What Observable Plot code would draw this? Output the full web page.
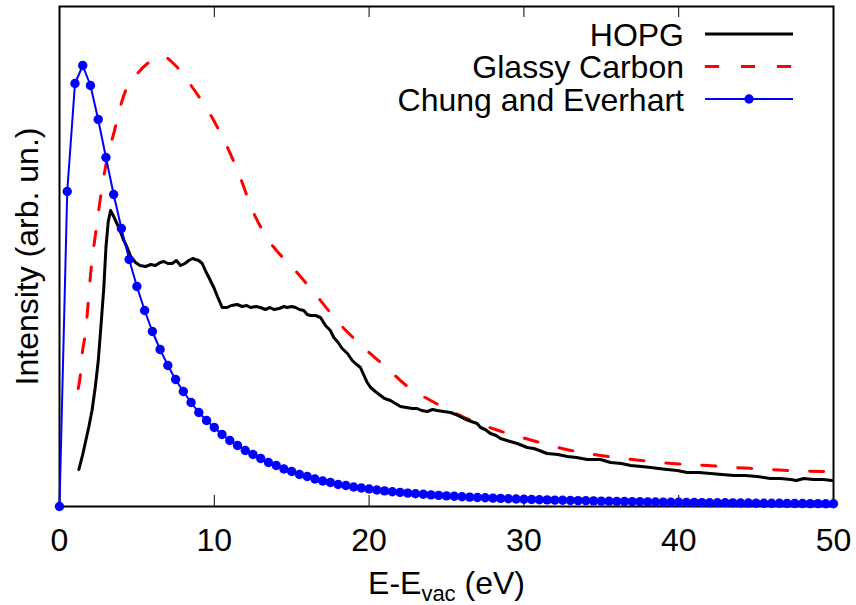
<!DOCTYPE html>
<html>
<head>
<meta charset="utf-8">
<script src="https://cdn.jsdelivr.net/npm/d3@7"></script>
<script src="https://cdn.jsdelivr.net/npm/@observablehq/plot@0.6"></script>
<style>
  html, body { margin: 0; padding: 0; background: #fff; }
  #chart svg { display: block; }
</style>
</head>
<body>
<div id="chart"></div>
<script>
// ---------- data (arbitrary intensity units) ----------
const xTicks = [0, 10, 20, 30, 40, 50];
const innerTicks = [10, 20, 30, 40];
const xLabelMain = "E-E";
const xLabelSub = "vac";
const xLabelTail = " (eV)";
const yLabel = "Intensity (arb. un.)";
const seriesNames = ["HOPG", "Glassy Carbon", "Chung and Everhart"];
const seriesColors = ["#000000", "#ff0000", "#0000ff"];

const hopgE = [1.25, 1.5, 1.7, 1.9, 2.1, 2.3, 2.5, 2.7, 2.86, 3.0, 3.15, 3.3, 3.5, 3.83, 4.1, 4.37, 4.6, 4.91, 5.2, 5.56,
  5.9, 6.2, 6.5, 6.74, 7.0, 7.28, 7.55, 7.82, 8.1, 8.35, 8.6, 8.79, 9.0, 9.22, 9.45, 9.65, 9.97, 10.2, 10.51, 10.83,
  11.1, 11.48, 11.8, 12.1, 12.34, 12.7, 12.98, 13.3, 13.6, 13.84, 14.2, 14.5, 14.71, 15.0, 15.25, 15.5, 15.78, 16.0, 16.21, 16.54,
  16.86, 17.18, 17.5, 17.72, 18.0, 18.26, 18.6, 18.91, 19.2, 19.44, 19.7, 19.88, 20.1, 20.4, 20.74, 21.0, 21.38, 21.7, 22.03, 22.4,
  22.8, 23.11, 23.4, 23.75, 24.1, 24.4, 24.8, 25.26, 25.6, 26.12, 26.6, 26.98, 27.2, 27.5, 27.84, 28.2, 28.49, 28.9, 29.57, 30.21,
  30.64, 31.0, 31.5, 32.2, 32.8, 33.4, 34.09, 34.95, 35.6, 36.3, 36.9, 37.6, 38.2, 38.7, 39.26, 39.9, 40.55, 41.3, 42.05, 42.8,
  43.56, 44.3, 45.07, 45.93, 46.6, 47.22, 47.6, 48.08, 48.7, 49.37, 49.9];
const hopgI = [37, 52, 66, 80, 96, 118, 145, 185, 218, 259, 285, 296, 290, 279, 268, 259, 250, 244, 241, 240,
  242, 241, 244, 245, 243, 243, 246, 241, 243, 246, 248, 247, 246, 243, 235, 229, 219, 210, 199, 199,
  201, 202, 200, 201, 199, 200, 199, 197, 199, 197, 198, 200, 199, 200, 199, 197, 196, 192, 191, 191,
  189, 181, 176, 169, 164, 158, 153, 146, 142, 139, 130, 124, 119, 115, 111, 108, 106, 103, 100, 99,
  98, 98, 96, 95, 97, 96, 95, 94, 92, 88, 85, 83, 79, 77, 73, 71, 68, 66, 63, 59,
  58, 56, 53, 52, 50, 49, 47, 47, 44, 43, 41, 40, 39, 38, 37, 36, 34, 34, 33, 32,
  31, 31, 30, 28, 28, 27, 26, 28, 27, 27, 26];

const glassyE = [1.21, 1.36, 1.47, 1.68, 1.85, 2.0, 2.33, 2.65, 3.04, 3.52, 4.13, 5.04, 5.68, 6.72, 7.36, 8.59, 9.82, 10.85, 11.63, 12.47,
  13.57, 15.12, 16.6, 18.02, 19.64, 21.12, 22.48, 24.1, 26.16, 28.36, 30.56, 32.75, 34.95, 37.27, 39.53, 41.86, 43.15, 45.41, 47.74, 50.0];
const glassyI = [118, 133, 153, 174, 203, 231, 273, 309, 345, 374, 410, 433, 443, 450, 443, 419, 390, 359, 331, 296,
  265, 238, 211, 184, 159, 139, 120, 105, 89, 76, 66, 57, 51, 46.5, 43, 41, 39.5, 37.5, 35.5, 35];

const chungE = [0, 0.5, 1, 1.5, 2, 2.5, 3, 3.5, 4, 4.5, 5, 5.5, 6, 6.5, 7, 7.5, 8, 8.5, 9, 9.5,
  10, 10.5, 11, 11.5, 12, 12.5, 13, 13.5, 14, 14.5, 15, 15.5, 16, 16.5, 17, 17.5, 18, 18.5, 19, 19.5,
  20, 20.5, 21, 21.5, 22, 22.5, 23, 23.5, 24, 24.5, 25, 25.5, 26, 26.5, 27, 27.5, 28, 28.5, 29, 29.5,
  30, 30.5, 31, 31.5, 32, 32.5, 33, 33.5, 34, 34.5, 35, 35.5, 36, 36.5, 37, 37.5, 38, 38.5, 39, 39.5,
  40, 40.5, 41, 41.5, 42, 42.5, 43, 43.5, 44, 44.5, 45, 45.5, 46, 46.5, 47, 47.5, 48, 48.5, 49, 49.5, 50];
const chungI = [0, 315, 423, 441, 421, 387, 349, 312, 278, 247, 220, 196, 175, 157, 141, 127, 115, 104, 94, 86,
  79, 72, 66, 61, 56, 52, 48, 44, 41, 37.5, 35, 32, 30, 27.5, 25.5, 24, 22, 21, 19.5, 18.5,
  17.5, 16.5, 15.6, 14.8, 14.1, 13.4, 12.8, 12.2, 11.6, 11.1, 10.6, 10.2, 9.8, 9.4, 9.0, 8.7, 8.4, 8.1, 7.8, 7.5,
  7.3, 7.0, 6.8, 6.6, 6.4, 6.2, 6.0, 5.9, 5.7, 5.6, 5.4, 5.3, 5.1, 5.0, 4.9, 4.8, 4.6, 4.5, 4.4, 4.3,
  4.2, 4.1, 4.0, 3.9, 3.8, 3.8, 3.7, 3.6, 3.5, 3.5, 3.4, 3.3, 3.2, 3.2, 3.1, 3.0, 3.0, 2.9, 2.9, 2.8, 2.8];

// ---------- tables built from the arrays ----------
const hopg = hopgE.map((e, i) => ({E: e, I: hopgI[i]}));
const glassy = glassyE.map((e, i) => ({E: e, I: glassyI[i]}));
const chung = chungE.map((e, i) => ({E: e, I: chungI[i]}));

const W = 856, H = 605;
const mL = 59, mR = 23, mT = 6, mB = 99;
const font = "'Liberation Sans', Arial, Helvetica, sans-serif";
const FS = 32;
const plotH = H - mT - mB;

const svg = Plot.plot({
  width: W,
  height: H,
  marginLeft: mL,
  marginRight: mR,
  marginTop: mT,
  marginBottom: mB,
  style: {fontFamily: font, fontSize: FS + "px", background: "#fff", color: "#000", overflow: "visible"},
  x: {domain: [0, 50]},
  y: {domain: [0, 500], axis: null},
  marks: [
    Plot.frame({stroke: "#000", strokeWidth: 2}),
    Plot.ruleX(innerTicks, {stroke: "#000", strokeWidth: 1, insetTop: plotH - 11}),
    Plot.ruleX(innerTicks, {stroke: "#000", strokeWidth: 1, insetBottom: plotH - 11}),
    Plot.axisX({ticks: xTicks, tickSize: 0, tickPadding: 22, label: null, tickFormat: d => String(d), fontSize: FS}),
    Plot.text([yLabel], {frameAnchor: "left", rotate: -90, dx: -22, textAnchor: "middle", lineAnchor: "bottom", fontSize: FS}),
    Plot.text([xLabelMain + xLabelSub + xLabelTail], {frameAnchor: "bottom", dy: 87, textAnchor: "middle", lineAnchor: "bottom", fontSize: FS}),
    Plot.line(glassy, {x: "E", y: "I", stroke: seriesColors[1], strokeWidth: 3, strokeDasharray: "14,22", curve: "monotone-x"}),
    Plot.line(hopg, {x: "E", y: "I", stroke: seriesColors[0], strokeWidth: 3}),
    Plot.line(chung, {x: "E", y: "I", stroke: seriesColors[2], strokeWidth: 2}),
    Plot.dot(chung, {x: "E", y: "I", fill: seriesColors[2], r: 4.7, stroke: null})
  ]
});

// subscript in the x label
d3.select(svg).selectAll("text")
  .filter(function() { return this.textContent === xLabelMain + xLabelSub + xLabelTail; })
  .each(function() {
    const t = d3.select(this);
    t.text(null);
    t.append("tspan").text(xLabelMain);
    t.append("tspan").attr("font-size", 22).attr("dy", 7).text(xLabelSub);
    t.append("tspan").attr("dy", -7).text(xLabelTail);
  });

// legend inside the frame, top right
const lg = d3.select(svg).append("g").attr("font-family", font).attr("font-size", FS);
const textRight = W - mR - 149, lineX1 = W - mR - 128, lineX2 = W - mR - 40;
const rowY = [34, 66.5, 99];
seriesNames.forEach((name, i) => {
  const y = rowY[i];
  lg.append("text").attr("x", textRight).attr("y", y).attr("dy", "0.36em")
    .attr("text-anchor", "end").attr("fill", "#000").text(name);
  const ln = lg.append("line").attr("x1", lineX1).attr("x2", lineX2).attr("y1", y).attr("y2", y)
    .attr("stroke", seriesColors[i]).attr("stroke-width", i === 2 ? 2 : 3);
  if (i === 1) ln.attr("stroke-dasharray", "14,22");
  if (i === 2) lg.append("circle").attr("cx", (lineX1 + lineX2) / 2).attr("cy", y).attr("r", 4.7).attr("fill", seriesColors[2]);
});

document.getElementById("chart").appendChild(svg);
</script>
</body>
</html>
